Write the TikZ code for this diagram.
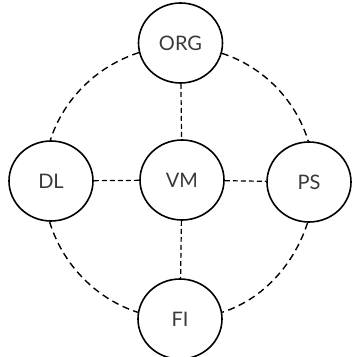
\documentclass[tikz,border=0pt]{standalone}
\usepackage{fontspec}
\setmainfont{Lato}
\usetikzlibrary{shapes.geometric}
\definecolor{txt}{HTML}{3A3A3A}
\begin{document}
\begin{tikzpicture}[x=1pt,y=1pt,
  vnode/.style={ellipse,draw=black,line width=1.6pt,fill=white,
    minimum width=84pt,minimum height=80pt,inner sep=0pt,
    text=txt,font=\fontsize{20}{24}\selectfont},
  inner/.style={line width=1.2pt,dash pattern=on 5pt off 3pt},
  outer/.style={line width=1.4pt,dash pattern=on 7pt off 4.5pt,looseness=0.9}]
\useasboundingbox (0,0) rectangle (355,357);
\node[vnode] (ORG) at (180.5,314) {ORG};
\node[vnode] (DL)  at (51,176)    {DL};
\node[vnode] (VM)  at (182,177)   {VM};
\node[vnode] (PS)  at (309,175)   {PS};
\node[vnode] (FI)  at (180,38)    {FI};
\draw[inner] (ORG) -- (VM);
\draw[inner] (VM) -- (FI);
\draw[inner] (DL) -- (VM);
\draw[inner] (VM) -- (PS);
\draw[outer] (ORG.193) to[out=198,in=72] (DL.91);
\draw[outer] (ORG.346.5) to[out=342,in=107] (PS.91);
\draw[outer] (DL.268.6) to[out=287,in=162] (FI.171);
\draw[outer] (PS.268.6) to[out=252,in=18] (FI.9);
\end{tikzpicture}
\end{document}
